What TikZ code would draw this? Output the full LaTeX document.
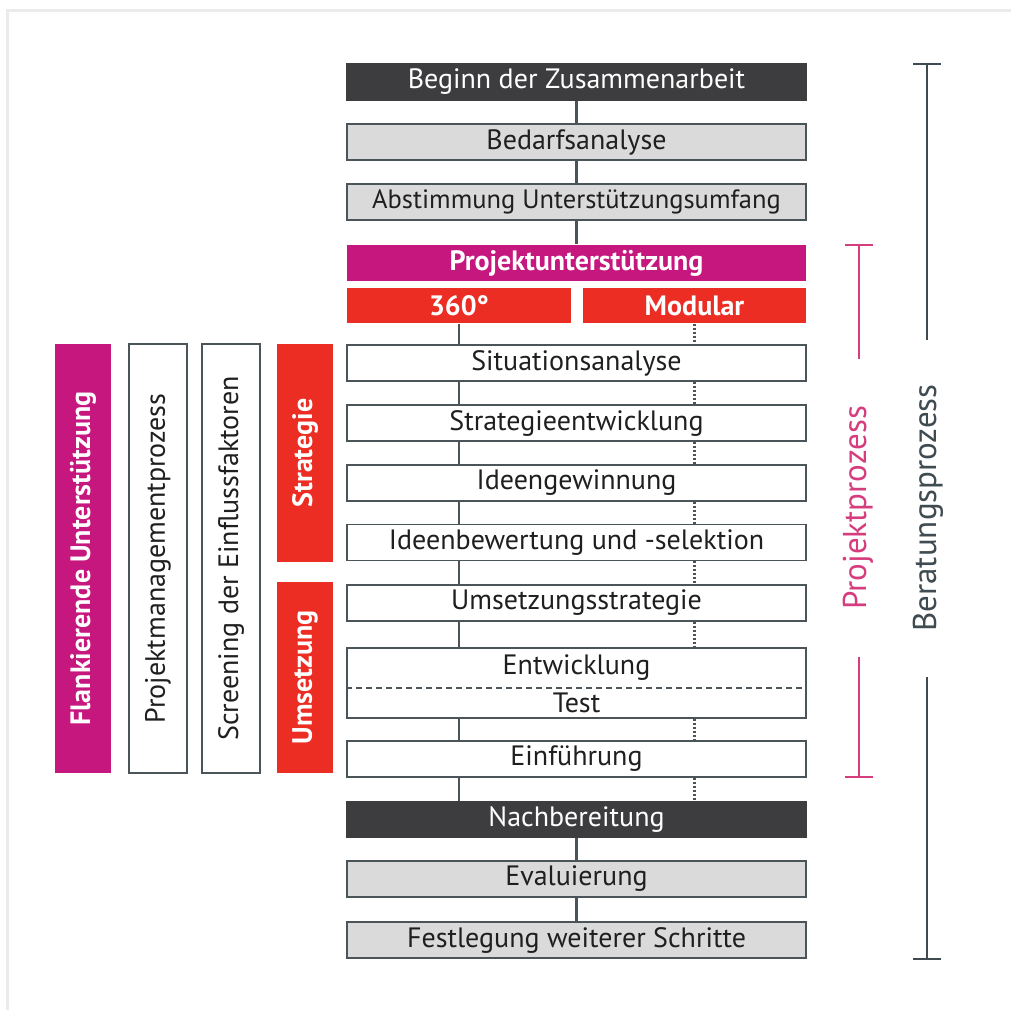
\documentclass[tikz,border=0pt]{standalone}
\usepackage{fontspec}
\setmainfont{PT Sans}
\definecolor{darkfill}{HTML}{3D3D3F}
\definecolor{lightfill}{HTML}{DADADA}
\definecolor{edgecol}{HTML}{4B5559}
\definecolor{magcol}{HTML}{C6177F}
\definecolor{redcol}{HTML}{EC2D23}
\definecolor{pinkcol}{HTML}{D63D7E}
\definecolor{brackcol}{HTML}{3F4B51}
\newcommand{\mfs}{\fontsize{28}{30}\selectfont}
\newcommand{\sfs}{\fontsize{26.5}{30}\selectfont}
\newcommand{\bfs}{\fontsize{33}{36}\selectfont}
\tikzset{
  box/.style={draw=edgecol, line width=1.3pt, minimum width=459pt, minimum height=36pt, inner sep=0pt, font=\mfs, text=black!88},
  darkbox/.style={box, fill=darkfill, draw=darkfill, text=white},
  graybox/.style={box, fill=lightfill},
  whitebox/.style={box, fill=white},
  magbox/.style={box, fill=magcol, draw=none, text=white, font=\mfs\bfseries},
  redbox/.style={box, fill=redcol, draw=none, text=white, font=\mfs\bfseries, minimum height=35pt},
  colbox/.style={draw=edgecol, line width=1.3pt, fill=white, rotate=90, minimum width=429pt, minimum height=58pt, inner sep=0pt, font=\mfs, text=black!88},
  link/.style={draw=edgecol, line width=2.2pt},
  dotlink/.style={draw=edgecol, line width=2.2pt, dash pattern=on 2pt off 2pt},
  brack/.style={line width=2pt}
}
\begin{document}
\begin{tikzpicture}[x=1pt, y=-1pt]
\useasboundingbox (0,0) rectangle (1011,1010);
\fill[white] (0,0) rectangle (1011,1010);
\draw[black!8, line width=3pt] (7,1010) -- (7,10) -- (1011,10);

% main column
\node[darkbox] (beg) at (576.5,82) {Beginn der Zusammenarbeit};
\node[graybox] (bed) at (576.5,142) {Bedarfsanalyse};
\node[graybox, font=\sfs] (abs) at (576.5,202) {Abstimmung Unterstützungsumfang};
\node[magbox] (proj) at (576.5,263) {Projektunterstützung};
\node[redbox, minimum width=224pt] (s360) at (459,305.5) {360°};
\node[redbox, minimum width=223pt] (mod) at (694.5,305.5) {Modular};
\node[whitebox] (sit) at (576.5,363) {Situationsanalyse};
\node[whitebox] (str) at (576.5,423) {Strategieentwicklung};
\node[whitebox] (ide) at (576.5,483) {Ideengewinnung};
\node[whitebox] (bew) at (576.5,542.5) {Ideenbewertung und -selektion};
\node[whitebox] (ums) at (576.5,603) {Umsetzungsstrategie};
\node[whitebox, minimum height=70pt] (ent) at (576.5,683) {};
\node[font=\mfs, text=black!88, inner sep=0pt] (entt) at (576.5,668) {Entwicklung};
\node[font=\mfs, text=black!88, inner sep=0pt] (test) at (576.5,703) {Test};
\draw[edgecol, line width=1.3pt, dash pattern=on 6pt off 4pt] (ent.west |- 0,688) -- (ent.east |- 0,688);
\node[whitebox] (ein) at (576.5,759) {Einführung};
\node[darkbox] (nach) at (576.5,819.5) {Nachbereitung};
\node[graybox] (eva) at (576.5,879) {Evaluierung};
\node[graybox] (fest) at (576.5,940) {Festlegung weiterer Schritte};

% connectors top and bottom
\draw[link] (beg.south) -- (bed.north);
\draw[link] (bed.south) -- (abs.north);
\draw[link] (abs.south) -- (proj.north);
\draw[link] (nach.south) -- (eva.north);
\draw[link] (eva.south) -- (fest.north);

% 360 solid path
\draw[link] (s360.south) -- (s360.south |- sit.north);
\foreach \a/\b in {sit/str, str/ide, ide/bew, bew/ums, ums/ent, ent/ein, ein/nach}
  \draw[link] (s360.south |- \a.south) -- (s360.south |- \b.north);
% modular dotted path
\draw[dotlink] (mod.south) -- (mod.south |- sit.north);
\foreach \a/\b in {sit/str, str/ide, ide/bew, bew/ums, ums/ent, ent/ein, ein/nach}
  \draw[dotlink] (mod.south |- \a.south) -- (mod.south |- \b.north);

% left columns
\node[colbox, fill=magcol, draw=none, text=white, font=\mfs\bfseries, minimum height=56pt] (flank) at (83,558.5) {Flankierende Unterstützung};
\node[colbox] (pm) at (158,558.5) {Projektmanagementprozess};
\node[colbox] (scr) at (231,558.5) {Screening der Einflussfaktoren};
\node[colbox, fill=redcol, draw=none, text=white, font=\mfs\bfseries, minimum height=56pt, minimum width=218pt] (strat) at (305,453) {Strategie};
\node[colbox, fill=redcol, draw=none, text=white, font=\mfs\bfseries, minimum height=56pt, minimum width=191pt] (umset) at (305,677.5) {Umsetzung};

% right brackets
\coordinate (pt) at (859,245);
\coordinate (pb) at (859,777);
\draw[brack, pinkcol] (pt) ++(-14,0) -- ++(28,0);
\draw[brack, pinkcol] (pt) -- (859,359);
\draw[brack, pinkcol] (859,657) -- (pb);
\draw[brack, pinkcol] (pb) ++(-14,0) -- ++(28,0);
\node[rotate=90, font=\bfs, text=pinkcol, inner sep=0pt] (pp) at (858,508) {Projektprozess};

\coordinate (bt) at (927,64);
\coordinate (bb) at (927,959);
\draw[brack, brackcol] (bt) ++(-14,0) -- ++(28,0);
\draw[brack, brackcol] (bt) -- (927,340);
\draw[brack, brackcol] (927,677) -- (bb);
\draw[brack, brackcol] (bb) ++(-14,0) -- ++(28,0);
\node[rotate=90, font=\bfs, text=brackcol, inner sep=0pt] (bp) at (928,508) {Beratungsprozess};
\end{tikzpicture}
\end{document}
